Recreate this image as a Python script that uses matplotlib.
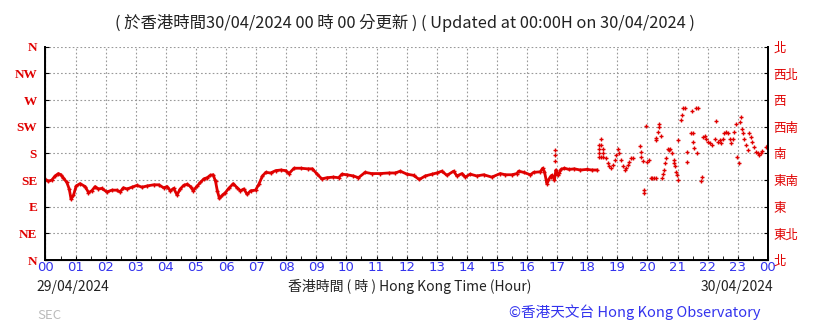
import matplotlib
matplotlib.use("Agg")
import matplotlib.pyplot as plt
from matplotlib.ticker import MultipleLocator

plt.rcParams["font.family"] = ["Noto Sans CJK TC", "DejaVu Sans"]

# wind direction (degrees) against hour since 00:00 on 29/04/2024
steady_hours = [
    0.00, 0.09, 0.21, 0.32, 0.43, 0.51, 0.59, 0.71, 0.79, 0.85, 0.93, 1.02,
    1.15, 1.32, 1.43, 1.54, 1.65, 1.76, 1.87, 2.04, 2.21, 2.37, 2.48, 2.59,
    2.71, 2.87, 3.04, 3.21, 3.37, 3.59, 3.76, 3.93, 4.04, 4.15, 4.26, 4.37,
    4.48, 4.59, 4.71, 4.82, 4.91, 5.04, 5.15, 5.26, 5.37, 5.48, 5.57, 5.65,
    5.71, 5.78, 5.87, 5.98, 6.09, 6.24, 6.37, 6.48, 6.59, 6.70, 6.82, 6.98,
    7.09, 7.21, 7.32, 7.48, 7.65, 7.82, 7.98, 8.09, 8.26, 8.48, 8.71, 8.87,
    9.01, 9.18, 9.35, 9.57, 9.74, 9.85, 10.01, 10.23, 10.40, 10.62, 10.84,
    11.12, 11.40, 11.62, 11.79, 12.01, 12.23, 12.42, 12.62, 12.84, 13.00,
    13.17, 13.34, 13.56, 13.67, 13.84, 13.95, 14.11, 14.33, 14.56, 14.83,
    15.11, 15.28, 15.50, 15.66, 15.72, 15.89, 16.11, 16.22, 16.44, 16.52,
    16.58, 16.66, 16.71, 16.78, 16.82, 16.87, 16.91, 16.96, 17.02, 17.07,
    17.13, 17.24, 17.40, 17.57, 17.77, 17.99, 18.16, 18.32,
]
steady_dirs = [
    136, 133, 135, 142, 146, 144, 139, 131, 120, 103, 109, 125,
    129, 124, 114, 117, 124, 120, 121, 115, 118, 118, 115, 122,
    120, 123, 126, 123, 125, 127, 127, 122, 124, 117, 121, 110,
    120, 126, 128, 124, 117, 125, 131, 137, 139, 143, 144, 133,
    117, 104, 109, 114, 121, 129, 122, 117, 120, 111, 117, 118,
    128, 142, 148, 147, 151, 152, 151, 146, 155, 155, 154, 154,
    146, 137, 139, 140, 139, 145, 144, 142, 139, 148, 146,
    146, 147, 147, 150, 145, 143, 136, 142, 145, 147,
    150, 143, 150, 142, 146, 140, 145, 142, 144, 140,
    146, 144, 144, 146, 150, 148, 144, 148, 149, 155,
    149, 129, 135, 141, 143, 141, 135, 152, 143, 147,
    153, 155, 153, 154, 152, 153, 152, 152,
]

# scattered readings (light, variable wind)
scatter_hours = [
    16.94, 16.94, 16.94,
    18.38, 18.38, 18.38, 18.38, 18.47, 18.47, 18.47, 18.52, 18.52, 18.52,
    18.63, 18.69, 18.74, 18.80, 18.85, 18.91, 18.96, 19.02, 19.07, 19.13,
    19.18, 19.24, 19.29, 19.34, 19.40, 19.45, 19.51, 19.75, 19.78, 19.78,
    19.84, 19.90, 19.90, 19.95, 20.00, 20.05, 20.11, 20.16, 20.22, 20.27,
    20.30, 20.30, 20.36, 20.40, 20.40, 20.44, 20.49, 20.52, 20.55, 20.58,
    20.62, 20.69, 20.73, 20.76, 20.81, 20.87, 20.89, 20.92, 20.96, 20.98,
    21.00, 21.03, 21.11, 21.14, 21.17, 21.25, 21.31, 21.33, 21.44, 21.47,
    21.50, 21.52, 21.56, 21.61, 21.66, 21.69, 21.78, 21.80, 21.85, 21.91,
    21.96, 22.02, 22.07, 22.13, 22.23, 22.29, 22.34, 22.40, 22.45, 22.51,
    22.56, 22.62, 22.67, 22.73, 22.78, 22.84, 22.89, 22.95, 22.98, 23.03,
    23.08, 23.11, 23.14, 23.19, 23.22, 23.27, 23.33, 23.38, 23.44, 23.49,
    23.55, 23.60, 23.66, 23.71, 23.77, 23.82, 23.93, 24.00,
]
scatter_dirs = [
    185, 177, 168,
    194, 187, 180, 174, 204, 194, 174, 188, 180, 174,
    172, 163, 158, 155, 160, 169, 177, 188, 180, 169,
    158, 152, 155, 160, 166, 172, 173, 192, 183, 174,
    167, 118, 113, 226, 166, 169, 139, 139, 139, 139,
    206, 203, 217, 229, 224, 210, 138, 146, 152, 163,
    172, 188, 186, 188, 180, 169, 163, 158, 149, 143,
    203, 135, 236, 245, 256, 257, 166, 182, 214, 252,
    214, 200, 190, 256, 180, 256, 133, 141, 208, 210,
    205, 200, 197, 194, 204, 235, 200, 203, 197, 205,
    214, 217, 215, 205, 197, 205, 217, 229, 174, 163,
    233, 242, 222, 214, 205, 194, 186, 214, 208, 200,
    191, 183, 180, 178, 180, 184, 191, 194,
]

hour_labels = ["%02d" % (h % 24) for h in range(25)]
dir_labels = ["N", "NE", "E", "SE", "S", "SW", "W", "NW", "N"]
dir_labels_zh = ["北", "東北", "東", "東南", "南", "西南", "西", "西北", "北"]

red = "#e00000"
blue = "#3333ee"

fig = plt.figure(figsize=(8.19, 3.23), dpi=100)
ax = fig.add_axes([0.0555, 0.195, 0.882, 0.66])

ax.plot(steady_hours, steady_dirs, color=red, lw=2.0, marker="+", ms=3.5, mew=1.0)
ax.plot(scatter_hours, scatter_dirs, ls="none", color=red, marker="+", ms=3.5, mew=1.0)

ax.set_xlim(0, 24)
ax.set_ylim(0, 360)
ax.set_xticks(range(25))
ax.set_xticklabels(hour_labels, color=blue, fontsize=9.5, family="DejaVu Sans")
ax.xaxis.set_minor_locator(MultipleLocator(0.5))
ax.set_yticks(range(0, 361, 45))
ax.set_yticklabels(dir_labels, color=red, fontsize=9.5, family="Liberation Serif", fontweight="bold")
ax.tick_params(axis="x", which="both", direction="in", length=3, pad=1)
ax.tick_params(axis="y", direction="in", length=3, pad=6)
ax.tick_params(axis="y", which="both", right=True)

ax.grid(True, color="#999999", ls=(0, (1.5, 2)), lw=0.8)
ax.spines["top"].set_visible(False)
for s in ["left", "bottom", "right"]:
    ax.spines[s].set_linewidth(1.4)

ax2 = ax.twinx()
ax2.set_ylim(0, 360)
ax2.set_yticks(range(0, 361, 45))
ax2.set_yticklabels(dir_labels_zh, color=red, fontsize=9)
ax2.tick_params(axis="y", direction="in", length=3, pad=4)
ax2.spines["top"].set_visible(False)
ax2.spines["right"].set_linewidth(1.4)

fig.text(0.494, 0.93, "( 於香港時間30/04/2024 00 時 00 分更新 ) ( Updated at 00:00H on 30/04/2024 )",
         ha="center", va="center", fontsize=11.8, color="#222222")
fig.text(0.044, 0.112, "29/04/2024", ha="left", va="center", fontsize=10, color="#222222")
fig.text(0.5, 0.112, "香港時間 ( 時 ) Hong Kong Time (Hour)", ha="center", va="center",
         fontsize=10, color="#222222")
fig.text(0.944, 0.112, "30/04/2024", ha="right", va="center", fontsize=10, color="#222222")
fig.text(0.928, 0.035, "©香港天文台 Hong Kong Observatory", ha="right", va="center",
         fontsize=10.5, color=blue)
fig.text(0.045, 0.024, "SEC", ha="left", va="center", fontsize=9.5, color="#bbbbbb")

fig.savefig("out.png", dpi=100)
